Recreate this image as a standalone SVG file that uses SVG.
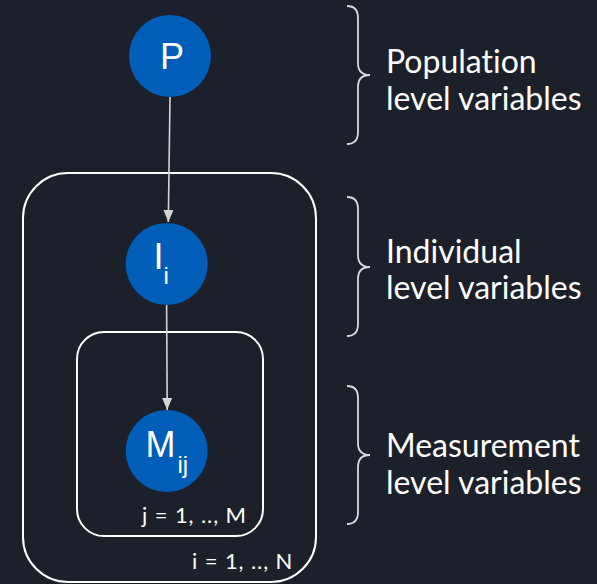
<svg xmlns="http://www.w3.org/2000/svg" width="597" height="584" viewBox="0 0 597 584">
  <defs>
    <marker id="arrow" viewBox="0 0 12 10" refX="12" refY="5" markerWidth="12" markerHeight="10" markerUnits="userSpaceOnUse" orient="auto">
      <path d="M0,0 L12,5 L0,10 Z" fill="#d4d4d4"/>
    </marker>
    <style>
      .plate { fill: none; stroke: #ffffff; stroke-width: 2; }
      .node { fill: #005eb8; }
      .nlabel { font-family: "Liberation Sans", Arial, sans-serif; font-size: 36px; fill: #ffffff; }
      .sub { font-size: 24px; }
      .edge { fill: none; stroke: #d4d4d4; stroke-width: 1.6; }
      .brace { fill: none; stroke: #d9d9d9; stroke-width: 1.8; }
      .desc { font-family: Lato, "Liberation Sans", sans-serif; font-size: 32px; fill: #ffffff; font-variant-ligatures: none; }
      .index { font-family: Lato, "Liberation Sans", sans-serif; font-size: 22px; letter-spacing: 0.9px; fill: #ffffff; }
    </style>
  </defs>

  <rect x="0" y="0" width="597" height="584" fill="#1b202b"/>

  <!-- plates -->
  <g id="plate-i">
    <rect class="plate" x="23" y="173" width="293" height="409" rx="45" ry="45"/>
    <text class="index" x="192" y="569">i = 1, .., N</text>
  </g>
  <g id="plate-j">
    <rect class="plate" x="77" y="332" width="186" height="204" rx="27" ry="27"/>
    <text class="index" x="142" y="523">j = 1, .., M</text>
  </g>

  <!-- connectors -->
  <g id="edges">
    <line class="edge" x1="170" y1="97" x2="168.3" y2="222" marker-end="url(#arrow)"/>
    <line class="edge" x1="166.6" y1="305" x2="167.2" y2="410" marker-end="url(#arrow)"/>
  </g>

  <!-- nodes -->
  <g id="node-P">
    <circle class="node" cx="170" cy="56" r="41"/>
    <text class="nlabel" x="160" y="69">P</text>
  </g>
  <g id="node-I">
    <circle class="node" cx="166.7" cy="264" r="41"/>
    <text class="nlabel" x="153.5" y="269">I<tspan class="sub" dy="15">i</tspan></text>
  </g>
  <g id="node-M">
    <circle class="node" cx="166.7" cy="451" r="41"/>
    <text class="nlabel" x="145.5" y="457">M<tspan class="sub" x="177.5" dy="15.5">ij</tspan></text>
  </g>

  <!-- level braces and descriptions -->
  <g id="level-population">
    <path class="brace" d="M347,6 Q358,6 358,18 L358,63 Q358,75 370,75 Q358,75 358,87 L358,132 Q358,144 347,144"/>
    <text class="desc" x="386" y="73">Population</text>
    <text class="desc" x="386" y="110">level variables</text>
  </g>
  <g id="level-individual">
    <path class="brace" d="M347,197 Q358,197 358,209 L358,255 Q358,267 370,267 Q358,267 358,279 L358,324 Q358,336 347,336"/>
    <text class="desc" x="386" y="263">Individual</text>
    <text class="desc" x="386" y="299">level variables</text>
  </g>
  <g id="level-measurement">
    <path class="brace" d="M347,386 Q358,386 358,398 L358,443 Q358,455 370,455 Q358,455 358,467 L358,512 Q358,524 347,524"/>
    <text class="desc" x="386" y="457">Measurement</text>
    <text class="desc" x="386" y="494">level variables</text>
  </g>
</svg>
